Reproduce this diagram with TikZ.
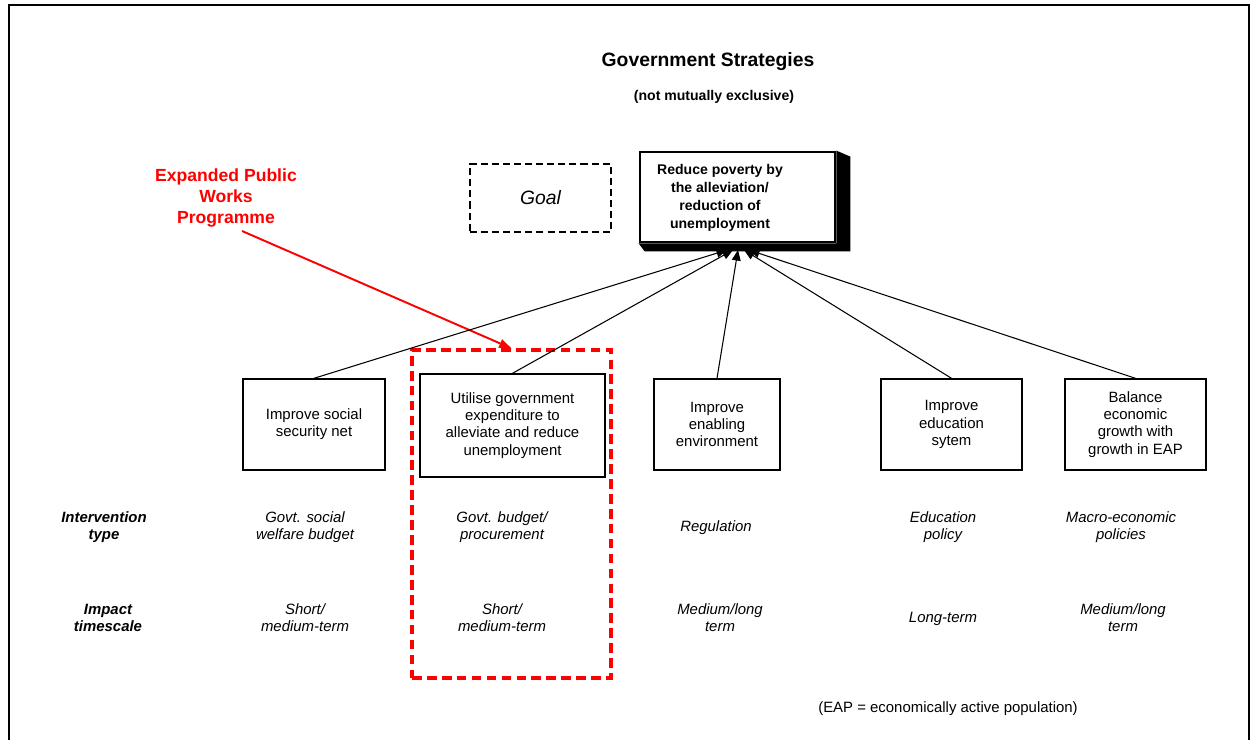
\documentclass[tikz,border=0pt]{standalone}
\usepackage{fontspec}
\setmainfont{Liberation Sans}
\usetikzlibrary{positioning}
\usetikzlibrary{calc}
\usetikzlibrary{arrows.meta}

\begin{document}
\begin{tikzpicture}[x=0.02cm, y=-0.02cm,
    box/.style={draw, line width=0.8pt, inner sep=0pt, align=center, minimum height=1.82cm, font=\fontsize{8.5}{9.8}\selectfont},
    note/.style={align=center, font=\fontsize{8.5}{9.8}\selectfont\itshape},
    rowlabel/.style={align=center, font=\fontsize{8.5}{9.8}\selectfont\bfseries\itshape},
    link/.style={line width=0.6pt, -{Triangle[length=6pt,width=5pt]}}]

    \useasboundingbox (0,0) rectangle (1254,740);

    % Frame
    \draw[line width=1.1pt] (9,740) -- (9,5) -- (1249,5) -- (1249,740);

    % Title
    \node (title) at (708,62) {\fontsize{11}{13}\selectfont\bfseries Government Strategies};
    \node (subtitle) at (714,97) {\fontsize{8}{10}\selectfont\bfseries (not mutually exclusive)};

    % Goal key and goal
    \node[draw, line width=0.85pt, dash pattern=on 4pt off 2.3pt, minimum width=2.82cm, minimum height=1.36cm] (goalkey) at (540.5,198) {\fontsize{11}{13}\selectfont\itshape Goal};
    \node[draw, line width=1.6pt, minimum width=3.9cm, minimum height=1.8cm] (goal) at (737.5,197) {};
    \fill (goal.north east) -- ++(14,6) -- ($(goal.south east)+(14,8)$) -- ($(goal.south west)+(6,8)$) -- (goal.south west) -- (goal.south east) -- cycle;
    \node[align=center, font=\fontsize{8}{10.2}\selectfont\bfseries] (goaltext) at (720,198) {Reduce poverty by\\the alleviation/\\reduction of\\unemployment};

    % EPWP highlight
    \node[draw=red, line width=1.9pt, dash pattern=on 5.5pt off 3pt, minimum width=3.98cm, minimum height=6.56cm] (redbox) at (511.5,514) {};
    \node[align=center, text=red, font=\fontsize{10}{12}\selectfont\bfseries] (epwp) at (226,198) {Expanded Public\\Works\\Programme};
    \coordinate (epwpstart) at (242,231);
    \draw[red, line width=1.1pt, -{Triangle[length=7pt,width=5pt]}] (epwpstart) -- (redbox.north);

    % Strategies
    \node[box, minimum width=2.84cm] (social) at (314,424.5) {Improve social\\security net};
    \node[box, minimum width=3.7cm, minimum height=2.06cm] (spend) at (512.5,425.5) {Utilise government\\expenditure to\\alleviate and reduce\\unemployment};
    \node[box, minimum width=2.52cm] (enable) at (717,424.5) {Improve\\enabling\\environment};
    \node[box, minimum width=2.82cm] (educ) at (951.5,424.5) {Improve\\education\\sytem};
    \node[box, minimum width=2.82cm] (growth) at (1135.5,424.5) {Balance\\economic\\growth with\\growth in EAP};

    % Links to goal
    \coordinate (tipA) at (727,250);
    \coordinate (tipB) at (733,250);
    \coordinate (tipC) at (738,250);
    \coordinate (tipD) at (744,250);
    \coordinate (tipE) at (749,250);
    \draw[link] (social.north) -- (tipA);
    \draw[link] (spend.north) -- (tipB);
    \draw[link] (enable.north) -- (tipC);
    \draw[link] (educ.north) -- (tipD);
    \draw[link] (growth.north) -- (tipE);

    % Intervention type
    \node[rowlabel] (intervention) at (104,527) {Intervention\\type};
    \node[note] (typeA) at (305,527) {Govt. social\\welfare budget};
    \node[note] (typeB) at (502,527) {Govt. budget/\\procurement};
    \node[note] (typeC) at (716,528) {Regulation};
    \node[note] (typeD) at (943,527) {Education\\policy};
    \node[note] (typeE) at (1121,527) {Macro-economic\\policies};

    % Impact timescale
    \node[rowlabel] (impact) at (108,618) {Impact\\timescale};
    \node[note] (timeA) at (305,618) {Short/\\medium-term};
    \node[note] (timeB) at (502,618) {Short/\\medium-term};
    \node[note] (timeC) at (720,618) {Medium/long\\term};
    \node[note] (timeD) at (943,619) {Long-term};
    \node[note] (timeE) at (1123,618) {Medium/long\\term};

    \node[font=\fontsize{8.5}{9.8}\selectfont] (eapnote) at (948,709) {(EAP = economically active population)};

\end{tikzpicture}
\end{document}
